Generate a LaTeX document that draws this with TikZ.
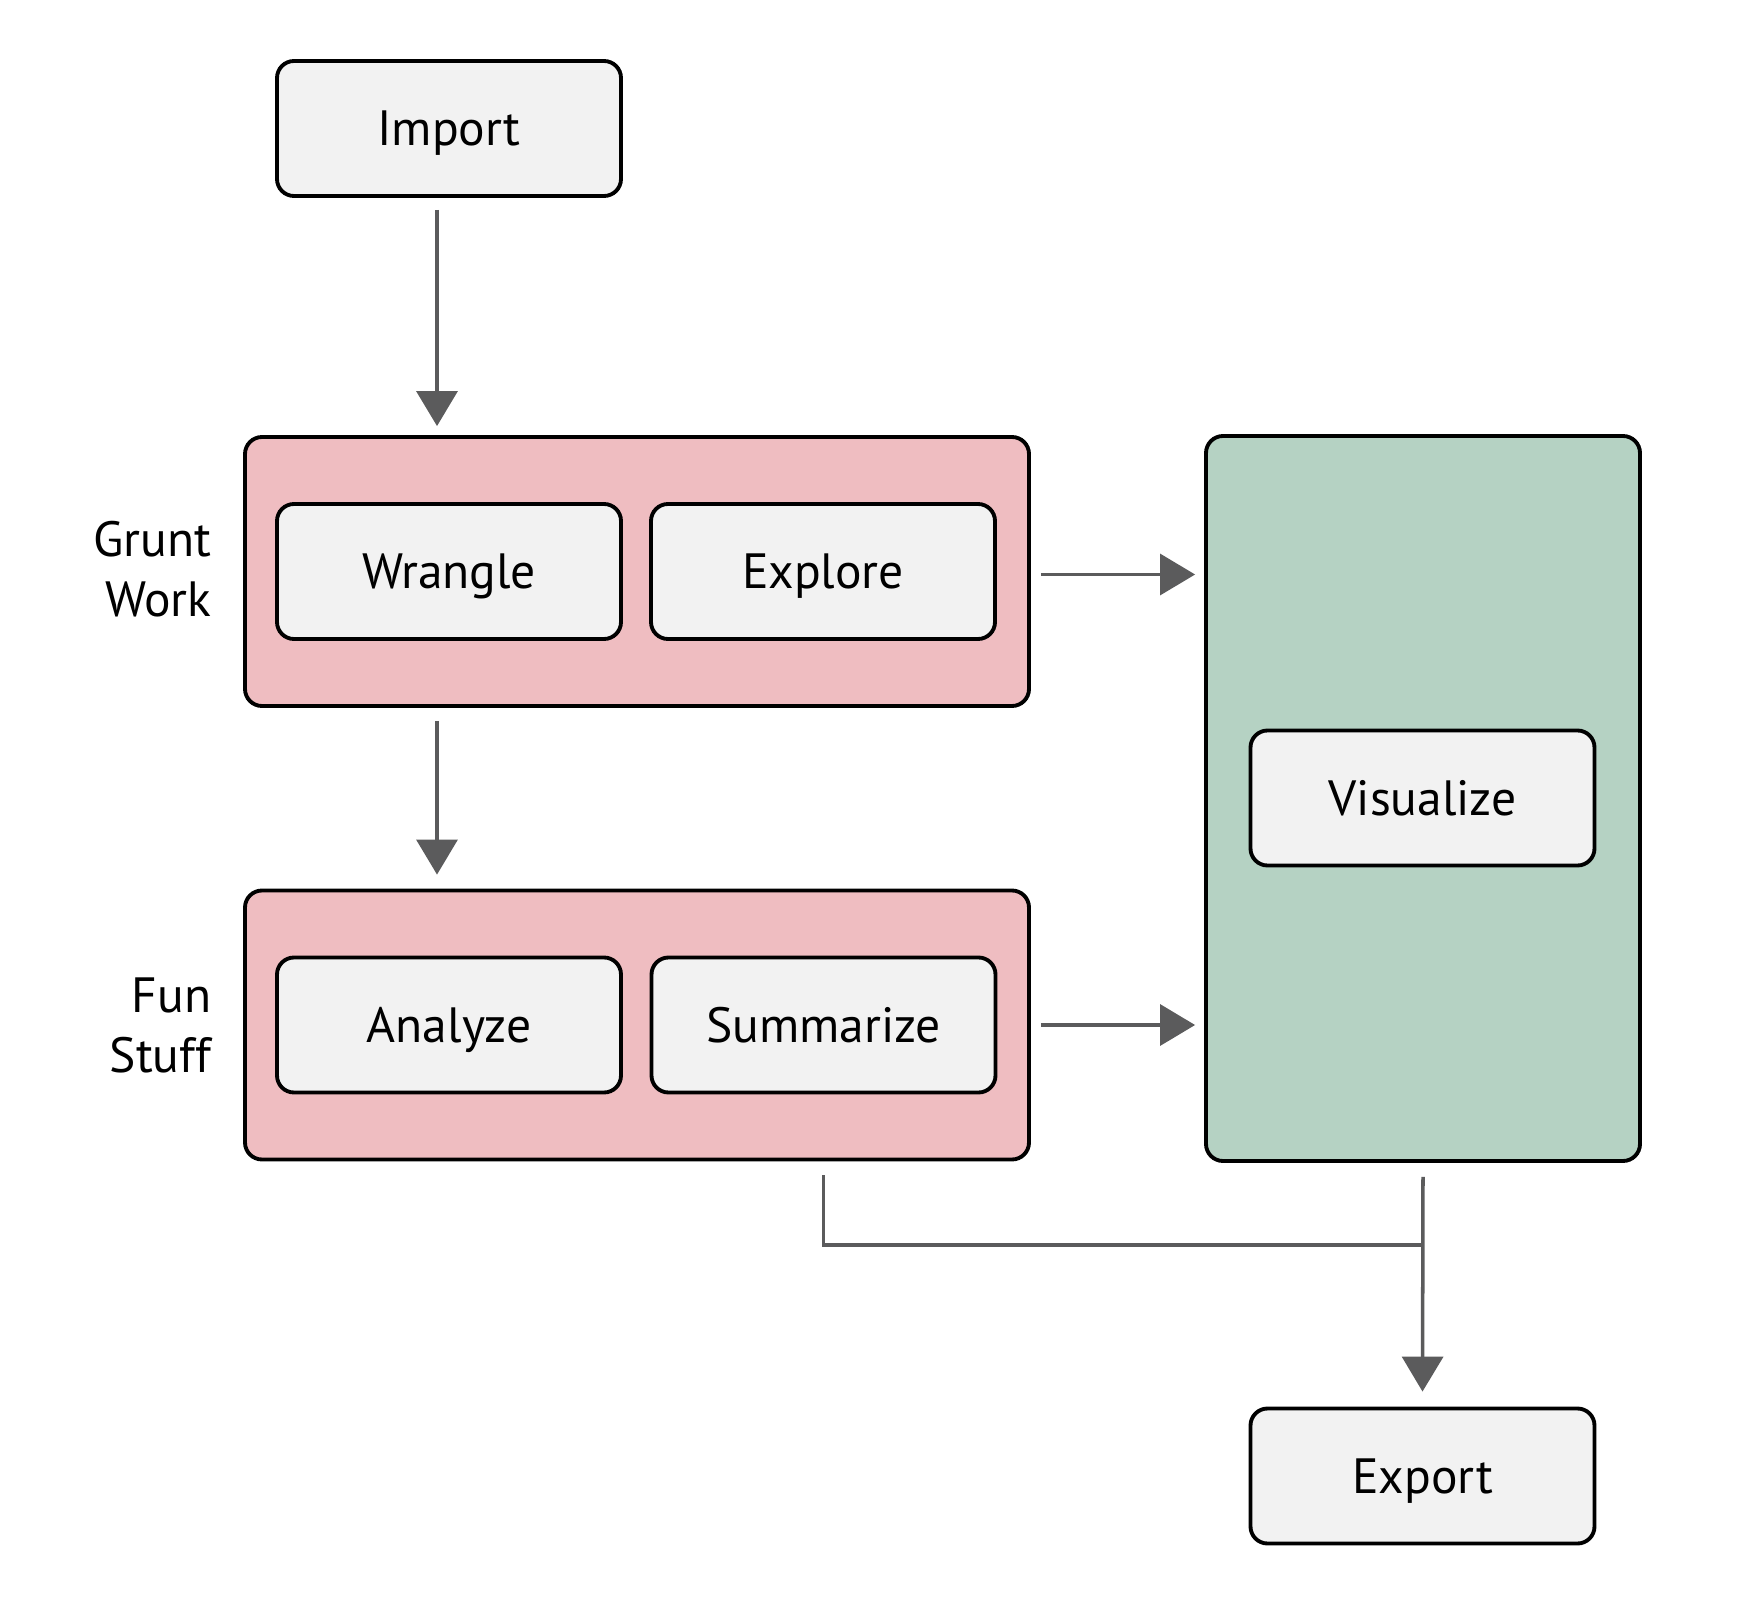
\documentclass[tikz,border=0pt]{standalone}
\usepackage{fontspec}
\setmainfont{PT Sans}
\usetikzlibrary{arrows.meta,positioning,calc}

\definecolor{boxgray}{HTML}{F2F2F2}
\definecolor{gruntpink}{HTML}{EFBDC1}
\definecolor{vizgreen}{HTML}{B5D2C3}
\definecolor{flowgray}{HTML}{5B5B5C}

\begin{document}
\begin{tikzpicture}[
  stage/.style={draw=black,line width=1.1pt,rounded corners=0.17cm,fill=boxgray,
    minimum width=3.44cm,minimum height=1.35cm,inner sep=0pt,text height=9.9pt,text depth=0pt},
  group/.style={draw=black,line width=1.1pt,rounded corners=0.17cm,inner sep=0pt},
  flow/.style={draw=flowgray,line width=1pt,-{Triangle[length=0.35cm,width=0.41cm]}},
  every node/.style={font=\fontsize{14.1}{17}\selectfont},
]
\useasboundingbox (0,0) rectangle (17.43,16.18);

\node[group,fill=gruntpink,minimum width=7.84cm,minimum height=2.69cm] (grunt) at (6.37,10.465) {};
\node[group,fill=gruntpink,minimum width=7.84cm,minimum height=2.69cm] (fun) at (6.37,5.93) {};
\node[group,fill=vizgreen,minimum width=4.34cm,minimum height=7.25cm] (viz) at (14.23,8.195) {};

\foreach \n/\x/\y/\t in {imp/4.49/14.895/Import, wra/4.49/10.465/Wrangle,
    exp/8.23/10.465/Explore, ana/4.49/5.93/Analyze, sum/8.235/5.93/Summarize,
    vis/14.225/8.20/Visualize, out/14.225/1.42/Export}
  {\node[stage] (\n) at (\x,\y) {\t};}

\node[anchor=east,align=right,inner sep=0pt] (gruntlbl) at (2.12,10.49) {Grunt\\Work};
\node[anchor=east,align=right,inner sep=0pt] (funlbl) at (2.12,5.925) {Fun\\Stuff};

\draw[flow] ([xshift=-1.2mm,yshift=-1.2mm]imp.south) -- ([xshift=-1.2mm,yshift=0.9mm]imp.south |- grunt.north);
\draw[flow] ([xshift=-1.2mm,yshift=-1.3mm]imp.south |- grunt.south) -- ([xshift=-1.2mm,yshift=1.4mm]imp.south |- fun.north);
\draw[flow] ([xshift=1.0mm,yshift=-0.3mm]grunt.east) -- ([xshift=-0.9mm,yshift=-0.3mm]grunt.east -| viz.west);
\draw[flow] ([xshift=1.0mm]fun.east) -- ([xshift=-0.9mm]fun.east -| viz.west);

\coordinate (join) at (14.225,3.73);
\draw[flowgray,line width=1pt] ([yshift=-1.4mm]sum.south |- fun.south) -- (sum.south |- join) -- (join);
\draw[flow] ([yshift=-1.4mm]viz.south) -- ([yshift=1.5mm]out.north);

\end{tikzpicture}
\end{document}
